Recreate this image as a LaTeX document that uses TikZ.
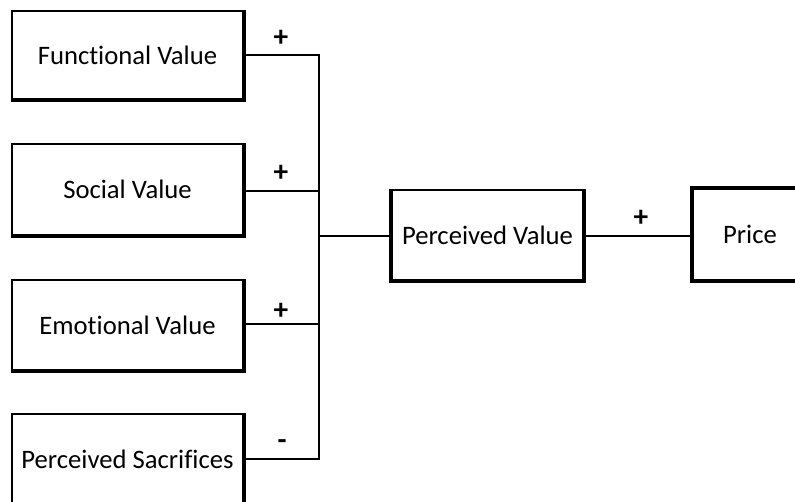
\documentclass[tikz,border=0pt]{standalone}
\usepackage{fontspec}
\setmainfont{Carlito}[Ligatures=NoCommon]
\begin{document}
\begin{tikzpicture}[x=0.75pt,y=-0.75pt,
  box/.style={draw, line width=1.5pt, minimum width=173.25pt, inner sep=0pt, font=\fontsize{20}{24}\selectfont},
  wire/.style={line width=1.1pt},
  sign/.style={font=\bfseries\fontsize{22}{26}\selectfont, inner sep=0pt}]
\useasboundingbox (0,0) rectangle (795,502);
\clip (0,0) rectangle (795,502);
% left boxes (x 12..243)
\node[box, minimum height=66pt] (fv) at (127.5,55) {Functional Value};
\node[box, minimum height=68pt] (sv) at (127.5,189.5) {Social Value};
\node[box, minimum height=67.5pt] (ev) at (127.5,325) {Emotional Value};
\node[box, minimum height=68pt] (ps) at (127.5,459.5) {Perceived Sacrifices};
\node[box, minimum width=143.25pt, minimum height=67.5pt] (pv) at (487.5,235) {Perceived Value};
\node[box, minimum width=85pt, minimum height=67.5pt] (pr) at (750,234.5) {Price};
% heavier edges
\foreach \n in {fv,sv,ev,ps}{
  \draw[line width=3pt] (\n.north east) -- (\n.south east) -- (\n.south west);
}
\draw[line width=3pt] (pv.north west) -- (pv.south west) -- (pv.south east) -- (pv.north east);
\draw[line width=3pt] (pr.north east) -- (pr.north west) -- (pr.south west) -- (pr.south east);
% bus
\coordinate (top) at (319,55);
\coordinate (bot) at (319,459);
\coordinate (mid) at (319,236);
\draw[wire] (fv.east |- top) -- (top) -- (bot) -- (ps.east |- bot);
\draw[wire] (sv.east |- 0,191) -- (319,191);
\draw[wire] (ev.east |- 0,324) -- (319,324);
\draw[wire] (mid) -- (pv.west |- mid);
\draw[wire] (pv.east |- mid) -- (pr.west |- mid);
% signs
\node[sign] (s1) at (281,38) {+};
\node[sign] (s2) at (281,173) {+};
\node[sign] (s3) at (281,311) {+};
\node[sign] (s4) at (282,445) {-};
\node[sign] (s5) at (641,218) {+};
\end{tikzpicture}
\end{document}
